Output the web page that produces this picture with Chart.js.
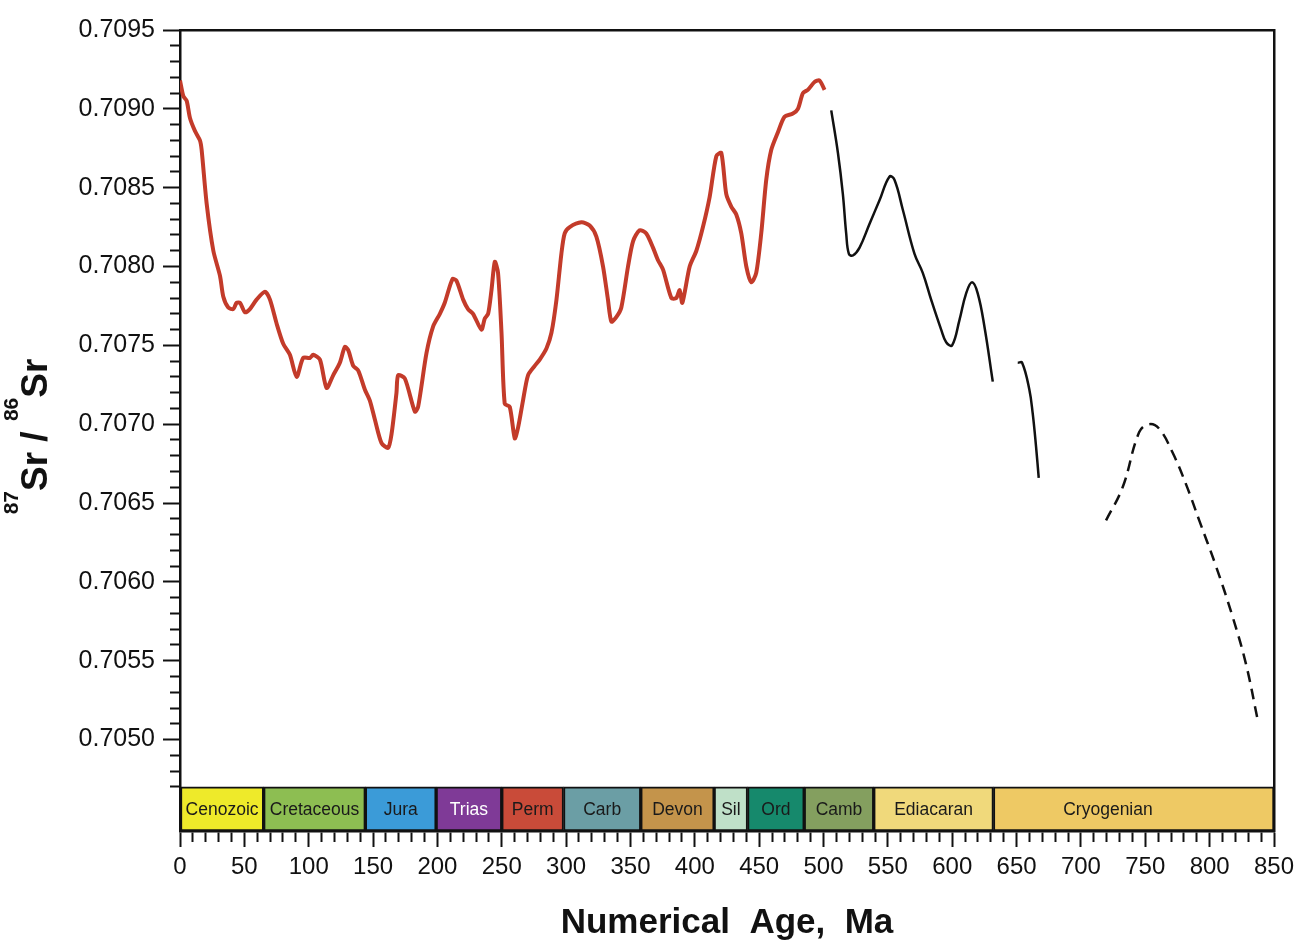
<!DOCTYPE html>
<html>
<head>
<meta charset="utf-8">
<title>87Sr/86Sr curve</title>
<script src="https://cdn.jsdelivr.net/npm/chart.js@4.4.1/dist/chart.umd.min.js"></script>
<style>
  html, body { margin: 0; padding: 0; background: #fff; }
  #wrap { width: 1296px; height: 941px; }
</style>
</head>
<body>
<div id="wrap"><canvas id="srChart" width="1296" height="941"></canvas></div>
<script>
// Geological periods shown in the band under the curve (ages in Ma)
const periodNames = ['Cenozoic', 'Cretaceous', 'Jura', 'Trias', 'Perm', 'Carb', 'Devon', 'Sil', 'Ord', 'Camb', 'Ediacaran', 'Cryogenian'];
const periodStart = [0, 65, 144, 199, 250, 298, 358, 415, 441, 485, 539, 632];
const periodEnd   = [65, 144, 199, 250, 298, 358, 415, 441, 485, 539, 632, 850];
const periodColors = ['#eeea2a', '#8dbe52', '#3b9bd8', '#7f3a97', '#c94b39', '#6b9ea5', '#c4944b', '#bfe0c8', '#16896c', '#849f5f', '#f0d97b', '#eec964'];
const periodTextColors = ['#1a1a1a', '#1a1a1a', '#1a1a1a', '#ffffff', '#1a1a1a', '#1a1a1a', '#1a1a1a', '#1a1a1a', '#1a1a1a', '#1a1a1a', '#1a1a1a', '#1a1a1a'];

// Phanerozoic seawater curve
const phanAge = [0, 2.6, 5.2, 7.8, 11.6, 15.5, 16.8, 20.7, 25.9, 31.1, 33.6, 37.5, 41.4, 44, 46.6, 50.5, 54.3, 59.5, 66, 69.9,
  75, 80.2, 85.4, 90.6, 95.7, 100.9, 103.5, 108.7, 113.9, 119, 124.2, 128.1, 130.7, 134.6, 138.5, 143.6, 147.5, 151.4, 156.6, 161.7,
  164.4, 168.2, 169.5, 174.7, 182.5, 185, 191.5, 196.7, 201.9, 205.7, 211.7, 214.8, 220, 223.8, 227.7, 234.2, 236.8, 239.4, 242, 244.6,
  247.1, 249.8, 252.3, 256.2, 260.1, 262.7, 266.5, 270.4, 275.6, 279.5, 284.7, 288.6, 292.5, 296.3, 298.9, 302.8, 311.9, 318.3, 323.5, 328.7,
  332.5, 335.2, 339.1, 342.9, 348.1, 352, 357.1, 362.3, 367.5, 371.4, 375.3, 381.8, 385.6, 388.2, 390.3, 396, 401.2, 406.3, 411.5, 416.7,
  420.6, 424.4, 428.3, 432.2, 436.1, 440, 443.9, 447.7, 451.6, 455.5, 459.4, 464.5, 469.7, 476.2, 480.1, 484, 487.8, 493, 496.9, 500.8];
const phanSr = [0.70918, 0.70908, 0.70905, 0.70894, 0.70886, 0.70880, 0.70874, 0.70840, 0.70810, 0.70794, 0.70781, 0.70774, 0.70773, 0.70777, 0.70777, 0.70771, 0.70773, 0.70779, 0.70784, 0.70779,
  0.70764, 0.70751, 0.70744, 0.70730, 0.70742, 0.70742, 0.70744, 0.70741, 0.70723, 0.70731, 0.70739, 0.70749, 0.70747, 0.70737, 0.70734, 0.70722, 0.70715, 0.70703, 0.70688, 0.70685,
  0.70694, 0.70720, 0.70731, 0.70729, 0.70708, 0.70711, 0.70745, 0.70762, 0.70770, 0.70777, 0.70792, 0.70791, 0.70779, 0.70773, 0.70770, 0.70760, 0.70767, 0.70770, 0.70785, 0.70803,
  0.70796, 0.70758, 0.70713, 0.70711, 0.70691, 0.70698, 0.70715, 0.70731, 0.70737, 0.70741, 0.70748, 0.70758, 0.70779, 0.70808, 0.70821, 0.70825, 0.70828, 0.70826, 0.70819, 0.70800,
  0.70779, 0.70765, 0.70768, 0.70774, 0.70800, 0.70816, 0.70823, 0.70821, 0.70812, 0.70804, 0.70798, 0.70780, 0.70780, 0.70785, 0.70777, 0.70800, 0.70810, 0.70825, 0.70844, 0.70870,
  0.70872, 0.70846, 0.70838, 0.70833, 0.70821, 0.70800, 0.70790, 0.70796, 0.70821, 0.70855, 0.70874, 0.70885, 0.70895, 0.70897, 0.70900, 0.70910, 0.70912, 0.70917, 0.70918, 0.70912];

// Neoproterozoic segments
const ediAge = [506, 511.2, 515, 517.6, 519.7, 522.8, 528, 535.7, 543.5, 551.2, 555.1, 561.6, 570.7, 577.1, 583.6, 591.4, 595.3, 599.9, 605.6, 610.8, 615.4, 619.8, 625, 631.5];
const ediSr = [0.70899, 0.70872, 0.70846, 0.70821, 0.70808, 0.70807, 0.70812, 0.70827, 0.70842, 0.70857, 0.70855, 0.70836, 0.70808, 0.70796, 0.70779, 0.70760, 0.70752, 0.70750, 0.70766, 0.70783, 0.70790, 0.70783, 0.70762, 0.70727];
const earlyEdiAge = [650.9, 654.3, 659.9, 662.5, 665.1, 667.2];
const earlyEdiSr = [0.70739, 0.70739, 0.70722, 0.70707, 0.70686, 0.70666];
const cryoAge = [719.5, 732.4, 745.3, 753.1, 760.9, 771.2, 781.6, 791.9, 804.9, 817.8, 828.2, 837.2];
const cryoSr = [0.70639, 0.70660, 0.70695, 0.70700, 0.70697, 0.70682, 0.70662, 0.70639, 0.70610, 0.70578, 0.70548, 0.70513];

// axis ranges; the band sits below 0.7047
const xMin = 0, xMax = 850;
const yMin = 0.70442, yMax = 0.7095, bandTop = 0.7047;

// Cryogenian label is not centred on its box
const labelAt = { Cryogenian: 721 };

// y title pieces: [text, superscript?]
const yTitleParts = [['87', true], ['Sr', false], [' / ', false], ['86', true], ['Sr', false]];

const FONT = '"Liberation Sans", Arial, Helvetica, sans-serif';
const INK = '#111111';

function pairs(xs, ys) {
    return xs.map((x, i) => ({ x: x, y: ys[i] }));
}

function keepAboveBand(scale) {
    scale.ticks = scale.ticks.filter(t => t.value >= bandTop - 1e-9);
}

const periodLabels = {
    id: 'periodLabels',
    afterDatasetsDraw(chart) {
        const meta = chart.getDatasetMeta(0);
        const ctx = chart.ctx;
        const xs = chart.scales.x;
        ctx.save();
        ctx.font = '17.5px ' + FONT;
        ctx.textAlign = 'center';
        ctx.textBaseline = 'middle';
        meta.data.forEach((bar, i) => {
            const c = bar.getCenterPoint();
            const name = periodNames[i];
            const x = labelAt[name] !== undefined ? xs.getPixelForValue(labelAt[name]) : c.x;
            ctx.fillStyle = periodTextColors[i];
            ctx.fillText(name, x, c.y + 1);
        });
        ctx.restore();
    }
};

// rotated axis title with raised isotope numbers
const srTitle = {
    id: 'srTitle',
    afterDraw(chart) {
        const ctx = chart.ctx;
        const area = chart.chartArea;
        const mainFont = 'bold 37px ' + FONT;
        const supFont = 'bold 21px ' + FONT;
        ctx.save();
        let total = 0;
        yTitleParts.forEach(p => {
            ctx.font = p[1] ? supFont : mainFont;
            total += ctx.measureText(p[0]).width;
        });
        ctx.translate(47, (area.top + area.bottom) / 2 + 6);
        ctx.rotate(-Math.PI / 2);
        ctx.fillStyle = INK;
        ctx.textAlign = 'left';
        ctx.textBaseline = 'alphabetic';
        let x = -total / 2;
        yTitleParts.forEach(p => {
            ctx.font = p[1] ? supFont : mainFont;
            ctx.fillText(p[0], x, p[1] ? -29 : 0);
            x += ctx.measureText(p[0]).width;
        });
        ctx.restore();
    }
};

Chart.defaults.font.family = FONT;
Chart.defaults.color = INK;

const bandCenter = (yMin + bandTop) / 2;

new Chart(document.getElementById('srChart'), {
    type: 'line',
    data: {
        datasets: [
            {
                type: 'bar',
                indexAxis: 'y',
                label: 'Periods',
                data: periodNames.map((n, i) => ({ x: [periodStart[i], periodEnd[i]], y: bandCenter })),
                backgroundColor: periodColors,
                borderColor: INK,
                borderWidth: 2,
                borderSkipped: false,
                barThickness: 44,
                xAxisID: 'x',
                yAxisID: 'y',
                order: 5
            },
            {
                label: 'Phanerozoic',
                data: pairs(phanAge, phanSr),
                borderColor: '#c33b2a',
                borderWidth: 4,
                pointRadius: 0,
                tension: 0.25,
                fill: false,
                order: 1
            },
            {
                label: 'Ediacaran',
                data: pairs(ediAge, ediSr),
                borderColor: INK,
                borderWidth: 2.5,
                pointRadius: 0,
                tension: 0.4,
                fill: false,
                order: 2
            },
            {
                label: 'Early Ediacaran',
                data: pairs(earlyEdiAge, earlyEdiSr),
                borderColor: INK,
                borderWidth: 2.5,
                pointRadius: 0,
                tension: 0.4,
                fill: false,
                order: 2
            },
            {
                label: 'Cryogenian',
                data: pairs(cryoAge, cryoSr),
                borderColor: INK,
                borderWidth: 2.5,
                borderDash: [11, 7],
                pointRadius: 0,
                tension: 0.4,
                fill: false,
                order: 2
            }
        ]
    },
    options: {
        responsive: false,
        devicePixelRatio: 1,
        animation: false,
        layout: { padding: 0 },
        plugins: {
            legend: { display: false },
            tooltip: { enabled: false }
        },
        scales: {
            // minor ticks, axis line
            x: {
                type: 'linear', position: 'bottom', min: xMin, max: xMax, weight: 0, offset: false,
                afterFit: s => { s.height = 11; },
                ticks: { display: false, stepSize: 10, autoSkip: false },
                grid: { offset: false, drawOnChartArea: false, tickLength: 11, tickWidth: 2, tickColor: INK },
                border: { display: true, color: INK, width: 2.5 }
            },
            // major ticks, labels and title
            xLab: {
                type: 'linear', position: 'bottom', min: xMin, max: xMax, weight: 1,
                afterFit: s => { s.height = 99; s.paddingLeft = 0; s.paddingRight = 0; },
                ticks: { stepSize: 50, autoSkip: false, maxRotation: 0, padding: 6, color: INK, font: { size: 24 } },
                grid: { drawOnChartArea: false, tickLength: 5, tickWidth: 2, tickColor: INK },
                border: { display: false },
                title: { display: true, text: 'Numerical  Age,  Ma', color: INK, font: { size: 35, weight: 'bold', lineHeight: 1 }, padding: { top: 0, bottom: 0 } }
            },
            xTop: {
                type: 'linear', position: 'top', min: xMin, max: xMax,
                afterFit: s => { s.height = 30; },
                ticks: { display: false },
                grid: { drawOnChartArea: false, drawTicks: false },
                border: { display: true, color: INK, width: 2.5 }
            },
            y: {
                type: 'linear', position: 'left', min: yMin, max: yMax, weight: 0, offset: false,
                afterBuildTicks: keepAboveBand,
                afterFit: s => { s.width = 10; },
                ticks: { display: false, stepSize: 0.0001, autoSkip: false },
                grid: { offset: false, drawOnChartArea: false, tickLength: 10, tickWidth: 2, tickColor: INK },
                border: { display: true, color: INK, width: 2.5 }
            },
            yLab: {
                type: 'linear', position: 'left', min: yMin, max: yMax, weight: 1,
                afterBuildTicks: keepAboveBand,
                afterFit: s => { s.width = 170; },
                ticks: {
                    stepSize: 0.0005, autoSkip: false, padding: 8, color: INK, font: { size: 25 },
                    callback: v => Number(v).toFixed(4)
                },
                grid: { drawOnChartArea: false, tickLength: 7, tickWidth: 2, tickColor: INK },
                border: { display: false }
            },
            yRight: {
                type: 'linear', position: 'right', min: yMin, max: yMax,
                afterFit: s => { s.width = 22; },
                ticks: { display: false },
                grid: { drawOnChartArea: false, drawTicks: false },
                border: { display: true, color: INK, width: 2.5 }
            }
        }
    },
    plugins: [periodLabels, srTitle]
});
</script>
</body>
</html>
